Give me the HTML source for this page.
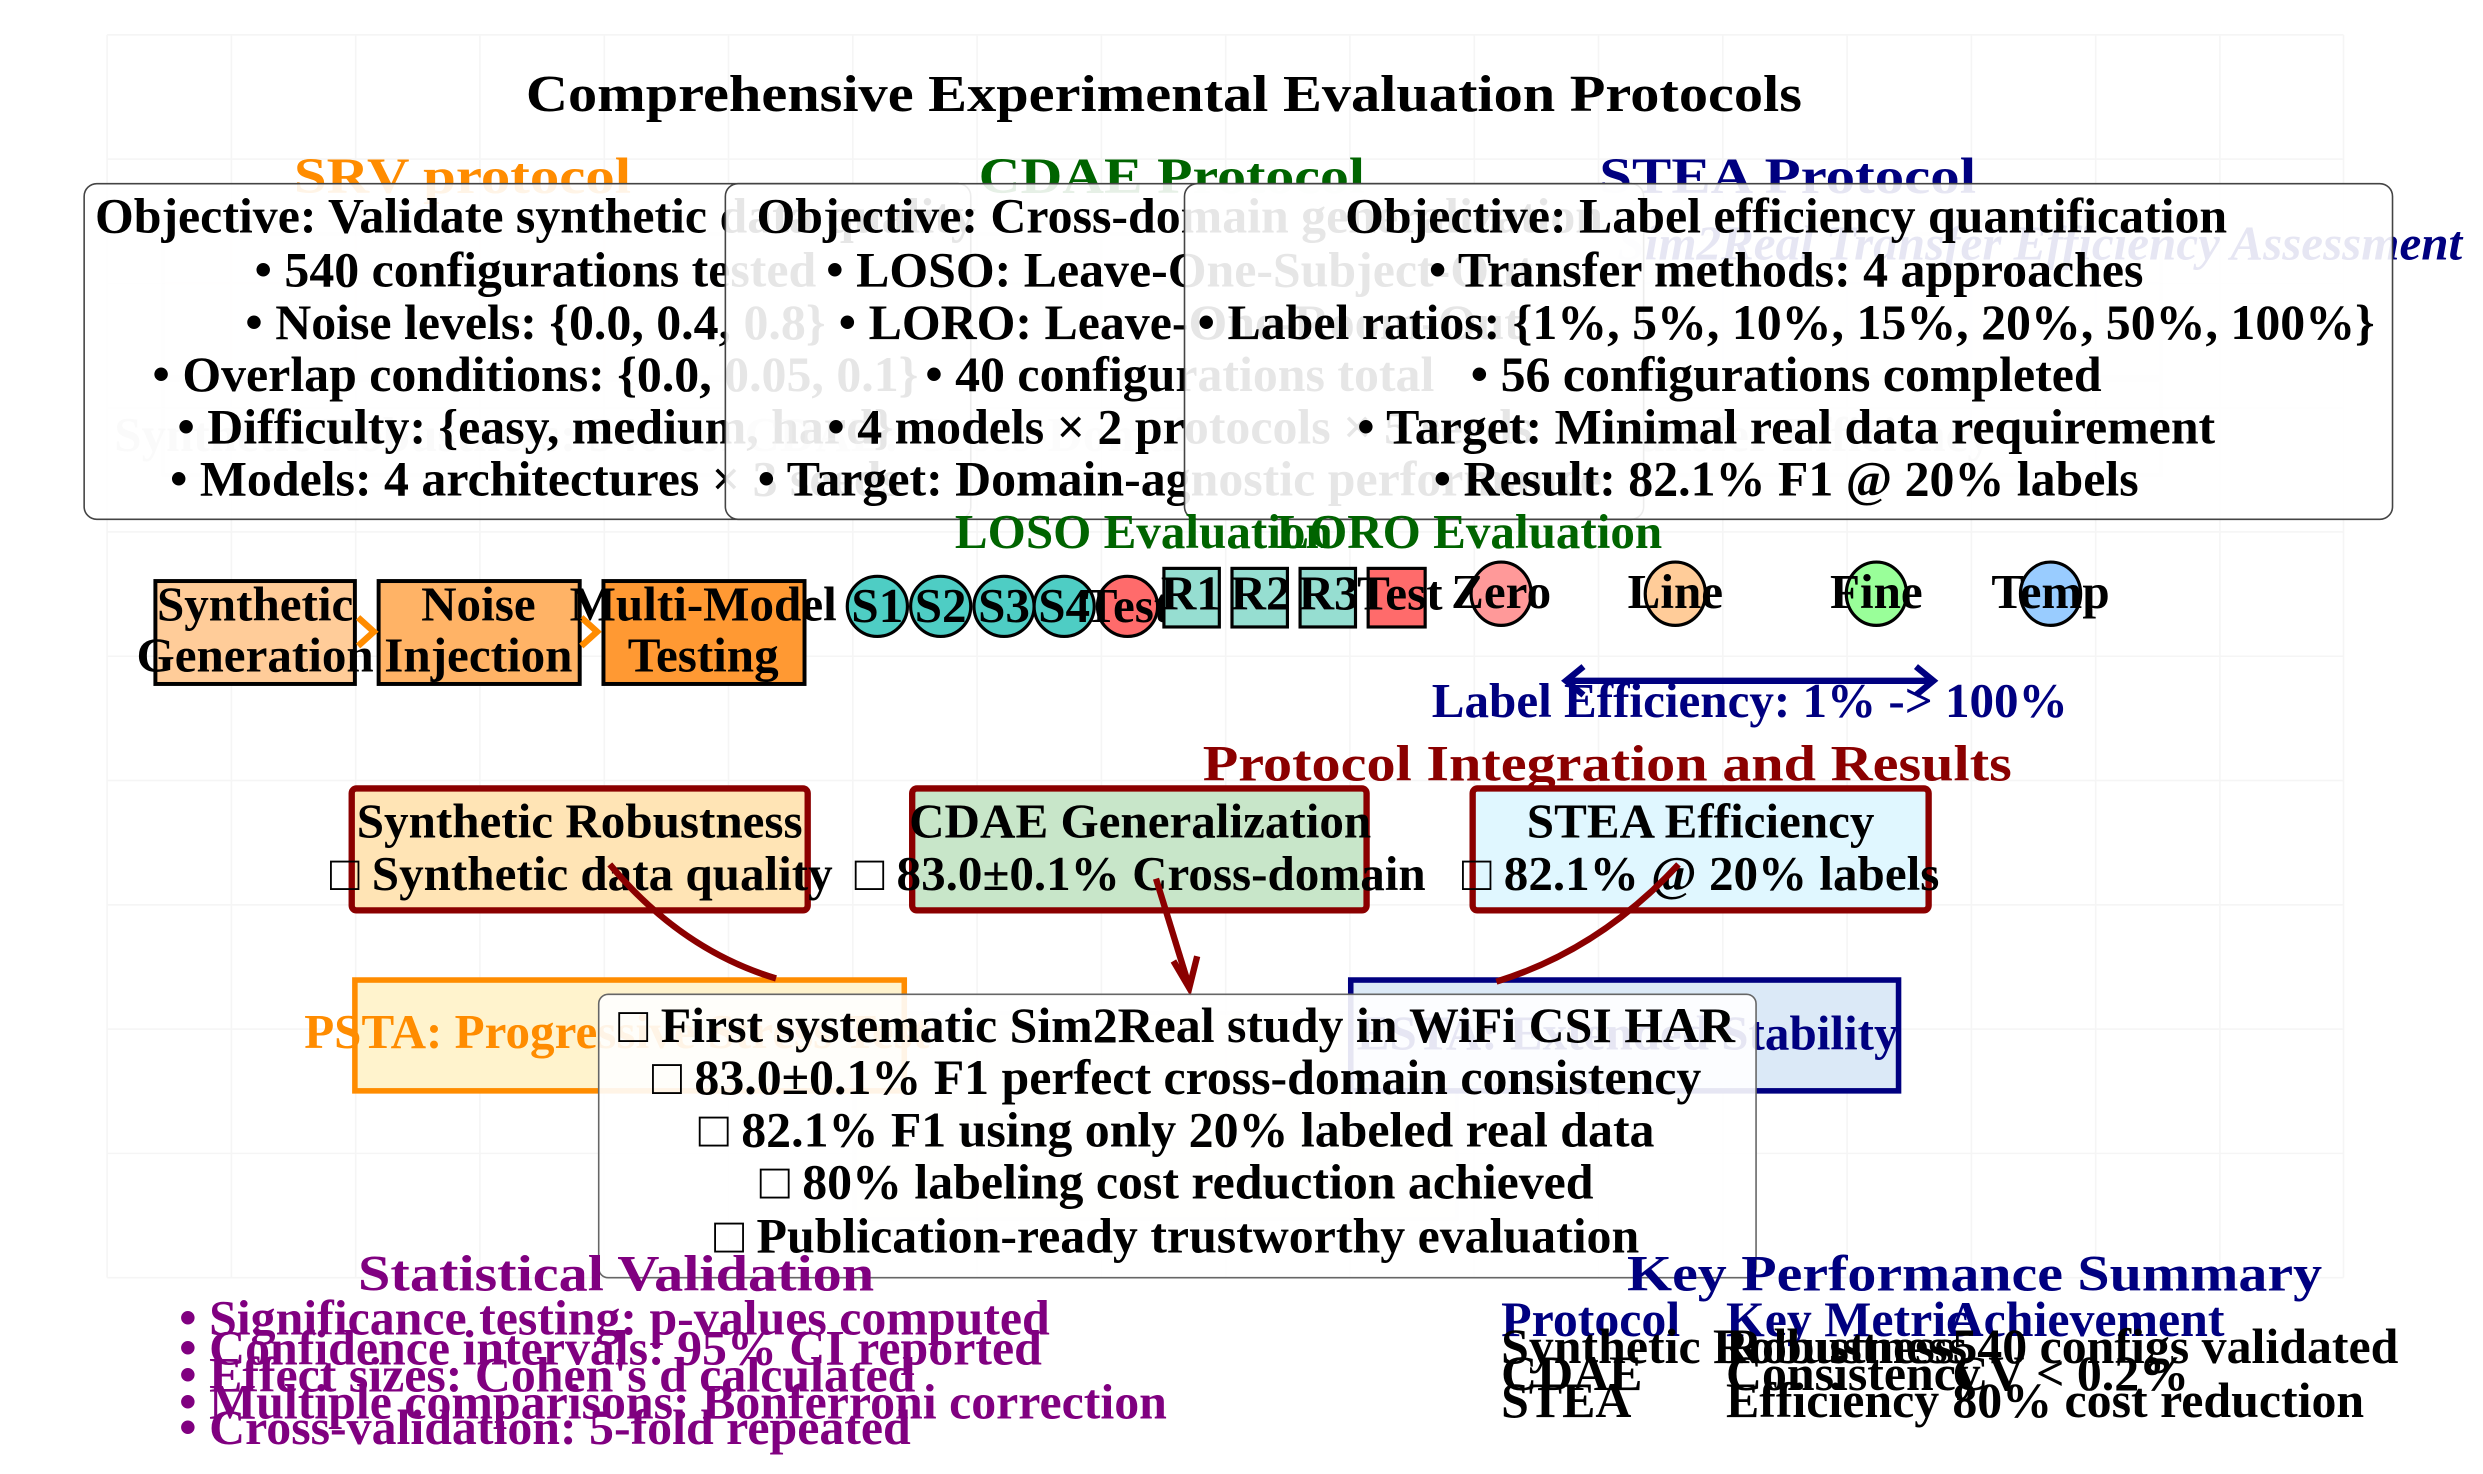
<!DOCTYPE html>
<html><head><meta charset="utf-8"><style>
html,body{margin:0;padding:0;background:#fff;}
svg{display:block;}
text{font-family:"Liberation Serif","DejaVu Serif",serif;font-weight:bold;}
</style></head><body>
<svg width="2483" height="1474" viewBox="0 0 1568 931" xmlns="http://www.w3.org/2000/svg">
<g id="grid" stroke="#ececec" stroke-width="1" opacity="0.5"></g>
<script>
const gx=[67.5,146,224.5,303,381.5,460,538.5,617,695.5,774,852.5,931,1009.5,1088,1166.5,1245,1323.5,1402,1480];
const gy=[22,100.5,179,257.5,336,414.5,493,571.5,650,728.5,807];
const g=document.getElementById('grid');
gx.forEach(x=>{const l=document.createElementNS('http://www.w3.org/2000/svg','line');


l.setAttribute('x1',x);l.setAttribute('x2',x);l.setAttribute('y1',22);l.setAttribute('y2',807);g.appendChild(l);});
gy.forEach(y=>{const l=document.createElementNS('http://www.w3.org/2000/svg','line');


l.setAttribute('x1',67.5);l.setAttribute('x2',1480);l.setAttribute('y1',y);l.setAttribute('y2',y);g.appendChild(l);});
</script>

<text x="735" y="70" font-size="33" text-anchor="middle" textLength="806" lengthAdjust="spacingAndGlyphs">Comprehensive Experimental Evaluation Protocols</text>

<g opacity="0.25">
<rect x="103" y="148" width="400" height="90" fill="#fff3e0" stroke="#bbb" stroke-width="2"/>
<rect x="103" y="240" width="400" height="60" fill="#f3f6fb" stroke="#bbb" stroke-width="2"/>
<rect x="605" y="148" width="300" height="90" fill="#e8f5e9" stroke="#bbb" stroke-width="2"/>
<rect x="905" y="148" width="460" height="90" fill="#e3f2fd" stroke="#bbb" stroke-width="2"/>
<rect x="905" y="240" width="460" height="60" fill="#f3f6fb" stroke="#bbb" stroke-width="2"/>
<rect x="540" y="640" width="380" height="130" fill="#fff8dc" stroke="#bbb" stroke-width="2"/>
</g>

<text x="292" y="122" font-size="32" fill="#ff8c00" text-anchor="middle" textLength="213" lengthAdjust="spacingAndGlyphs">SRV protocol</text>
<text x="740" y="122" font-size="32" fill="#006400" text-anchor="middle" textLength="244" lengthAdjust="spacingAndGlyphs">CDAE Protocol</text>
<text x="1129" y="122" font-size="32" fill="#000080" text-anchor="middle" textLength="238" lengthAdjust="spacingAndGlyphs">STEA Protocol</text>

<text x="1555" y="164" font-size="31" fill="#000080" font-style="italic" text-anchor="end">Sim2Real Transfer Efficiency Assessment</text>
<text x="72" y="285" font-size="31" fill="#999" opacity="0.5">Synthetic Robustness: 540 configs</text>
<text x="905" y="285" font-size="31" fill="#999" opacity="0.5">STEA: Transfer Efficiency</text>

<g>
<rect x="53" y="116" width="560" height="212" rx="8" fill="#fff" fill-opacity="0.9" stroke="#444" stroke-width="1"/>
<g font-size="31.5" text-anchor="middle">
<text x="338" y="147">Objective: Validate synthetic data quality</text>
<text x="338" y="181">• 540 configurations tested</text>
<text x="338" y="214">• Noise levels: {0.0, 0.4, 0.8}</text>
<text x="338" y="247">• Overlap conditions: {0.0, 0.05, 0.1}</text>
<text x="338" y="280">• Difficulty: {easy, medium, hard}</text>
<text x="338" y="313">• Models: 4 architectures × 3 seeds</text>
</g></g>
<text x="470" y="285" font-size="31" fill="#999" opacity="0.3">CDAE: Cross-Domain</text>
<g>
<rect x="458" y="116" width="580" height="212" rx="8" fill="#fff" fill-opacity="0.9" stroke="#444" stroke-width="1"/>
<g font-size="31.5" text-anchor="middle">
<text x="745" y="147">Objective: Cross-domain generalization</text>
<text x="745" y="181">• LOSO: Leave-One-Subject-Out</text>
<text x="745" y="214">• LORO: Leave-One-Room-Out</text>
<text x="745" y="247">• 40 configurations total</text>
<text x="745" y="280">• 4 models × 2 protocols × 5 seeds</text>
<text x="745" y="313">• Target: Domain-agnostic performance</text>
</g></g>
<g>
<rect x="748" y="116" width="763" height="212" rx="8" fill="#fff" fill-opacity="0.9" stroke="#444" stroke-width="1"/>
<g font-size="31.5" text-anchor="middle">
<text x="1128" y="147">Objective: Label efficiency quantification</text>
<text x="1128" y="181">• Transfer methods: 4 approaches</text>
<text x="1128" y="214">• Label ratios: {1%, 5%, 10%, 15%, 20%, 50%, 100%}</text>
<text x="1128" y="247">• 56 configurations completed</text>
<text x="1128" y="280">• Target: Minimal real data requirement</text>
<text x="1128" y="313">• Result: 82.1% F1 @ 20% labels</text>
</g></g>

<g font-size="31" text-anchor="middle">
<rect x="98" y="367" width="126" height="65" fill="#ffcc99" stroke="#000" stroke-width="2.5"/>
<rect x="239" y="367" width="127" height="65" fill="#ffb366" stroke="#000" stroke-width="2.5"/>
<rect x="381" y="367" width="127" height="65" fill="#ff9933" stroke="#000" stroke-width="2.5"/>
<path d="M226 390 L236 399 L226 408 M367 390 L377 399 L367 408" fill="none" stroke="#ff8c00" stroke-width="4"/>
<text x="161" y="392">Synthetic</text><text x="161" y="424">Generation</text>
<text x="302" y="392">Noise</text><text x="302" y="424">Injection</text>
<text x="444" y="392">Multi-Model</text><text x="444" y="424">Testing</text>
</g>

<text x="603" y="346" font-size="31" fill="#006400">LOSO Evaluation</text>
<text x="806" y="346" font-size="31" fill="#006400">LORO Evaluation</text>

<g font-size="31" text-anchor="middle" stroke-width="2">
<circle cx="554" cy="383" r="19" fill="#4ecdc4" stroke="#000"/>
<circle cx="594" cy="383" r="19" fill="#4ecdc4" stroke="#000"/>
<circle cx="634" cy="383" r="19" fill="#4ecdc4" stroke="#000"/>
<circle cx="672" cy="383" r="19" fill="#4ecdc4" stroke="#000"/>
<circle cx="712" cy="383" r="19" fill="#ff6b6b" stroke="#000"/>
<text x="554" y="393" stroke="none">S1</text><text x="594" y="393" stroke="none">S2</text><text x="634" y="393" stroke="none">S3</text><text x="672" y="393" stroke="none">S4</text><text x="712" y="393" stroke="none">Test</text>
</g>
<g font-size="31" text-anchor="middle">
<rect x="735" y="359" width="35" height="37" fill="#96ded1" stroke="#000" stroke-width="2"/>
<rect x="778" y="359" width="35" height="37" fill="#96ded1" stroke="#000" stroke-width="2"/>
<rect x="821" y="359" width="35" height="37" fill="#96ded1" stroke="#000" stroke-width="2"/>
<rect x="864" y="359" width="36" height="37" fill="#ff6b6b" stroke="#000" stroke-width="2"/>
<text x="752" y="385">R1</text><text x="796" y="385">R2</text><text x="839" y="385">R3</text><text x="884" y="385">Test</text>
</g>
<g font-size="31" text-anchor="middle" stroke-width="2">
<ellipse cx="948" cy="375" rx="19" ry="20" fill="#ff9999" stroke="#000"/>
<ellipse cx="1058" cy="375" rx="19" ry="20" fill="#ffcc99" stroke="#000"/>
<ellipse cx="1185" cy="375" rx="19" ry="20" fill="#99ff99" stroke="#000"/>
<ellipse cx="1295" cy="375" rx="19" ry="20" fill="#99ccff" stroke="#000"/>
<text x="948" y="384" stroke="none">Zero</text><text x="1058" y="384" stroke="none">Line</text><text x="1185" y="384" stroke="none">Fine</text><text x="1295" y="384" stroke="none">Temp</text>
</g>
<g stroke="#000080" stroke-width="4" fill="none">
<line x1="990" y1="430" x2="1220" y2="430"/>
<path d="M1000 421 L989 430 L1000 439 M1210 421 L1221 430 L1210 439"/>
</g>
<text x="1105" y="453" font-size="31" fill="#000080" text-anchor="middle">Label Efficiency: 1% -&gt; 100%</text>

<text x="1015" y="493" font-size="32" fill="#8b0000" text-anchor="middle" textLength="511" lengthAdjust="spacingAndGlyphs">Protocol Integration and Results</text>

<g>
<rect x="224" y="619" width="347" height="70" fill="#fff3cd" stroke="#ff8c00" stroke-width="3.5"/>
<text x="192" y="662" font-size="31" fill="#ff8c00">PSTA: Progressive Stress Test</text>
</g>
<g>
<rect x="853" y="619" width="346" height="70" fill="#dbe9f7" stroke="#000080" stroke-width="3.5"/>
<text x="1199" y="663" font-size="31" fill="#000080" text-anchor="end">ESTA: Extended Stability</text>
</g>

<g font-size="31" text-anchor="middle">
<rect x="222" y="498" width="288" height="77" rx="3" fill="#ffe4b5" stroke="#8b0000" stroke-width="4"/>
<rect x="576" y="498" width="287" height="77" rx="3" fill="#c8e6c9" stroke="#8b0000" stroke-width="4"/>
<rect x="930" y="498" width="288" height="77" rx="3" fill="#e0f7ff" stroke="#8b0000" stroke-width="4"/>
<text x="366" y="529">Synthetic Robustness</text><text x="367" y="562">□ Synthetic data quality</text>
<text x="720" y="529">CDAE Generalization</text><text x="720" y="562">□ 83.0±0.1% Cross-domain</text>
<text x="1074" y="529">STEA Efficiency</text><text x="1074" y="562">□ 82.1% @ 20% labels</text>
</g>
<g stroke="#8b0000" stroke-width="4" fill="none">
<path d="M385 546 Q430 600 490 618"/>
<path d="M730 555 L750 620"/>
<path d="M741 607 L751 624 L756 604"/>
<path d="M1060 546 Q1010 600 945 620"/>
</g>

<g>
<rect x="378" y="628" width="731" height="179" rx="6" fill="#fff" fill-opacity="0.9" stroke="#666" stroke-width="1"/>
<g font-size="31.5" text-anchor="middle">
<text x="743" y="658">□ First systematic Sim2Real study in WiFi CSI HAR</text>
<text x="743" y="691">□ 83.0±0.1% F1 perfect cross-domain consistency</text>
<text x="743" y="724">□ 82.1% F1 using only 20% labeled real data</text>
<text x="743" y="757">□ 80% labeling cost reduction achieved</text>
<text x="743" y="791">□ Publication-ready trustworthy evaluation</text>
</g></g>

<text x="389" y="815" font-size="32" fill="#800080" text-anchor="middle" textLength="326" lengthAdjust="spacingAndGlyphs">Statistical Validation</text>
<g font-size="31.5" fill="#800080">
<text x="113" y="843">• Significance testing: p-values computed</text>
<text x="113" y="862">• Confidence intervals: 95% CI reported</text>
<text x="113" y="879">• Effect sizes: Cohen's d calculated</text>
<text x="113" y="896">• Multiple comparisons: Bonferroni correction</text>
<text x="113" y="912">• Cross-validation: 5-fold repeated</text>
</g>

<text x="1247" y="815" font-size="32" fill="#000080" text-anchor="middle" textLength="439" lengthAdjust="spacingAndGlyphs">Key Performance Summary</text>
<g font-size="31.5">
<text x="948" y="844" fill="#000080">Protocol</text><text x="1090" y="844" fill="#000080">Key Metric</text><text x="1230" y="844" fill="#000080">Achievement</text>
<text x="948" y="861">Synthetic Robustness</text><text x="1090" y="861">Robustness</text><text x="1233" y="861">540 configs validated</text>
<text x="948" y="878">CDAE</text><text x="1090" y="878">Consistency</text><text x="1233" y="878">CV &lt; 0.2%</text>
<text x="948" y="895">STEA</text><text x="1090" y="895">Efficiency</text><text x="1233" y="895">80% cost reduction</text>
</g>
</svg>
</body></html>
